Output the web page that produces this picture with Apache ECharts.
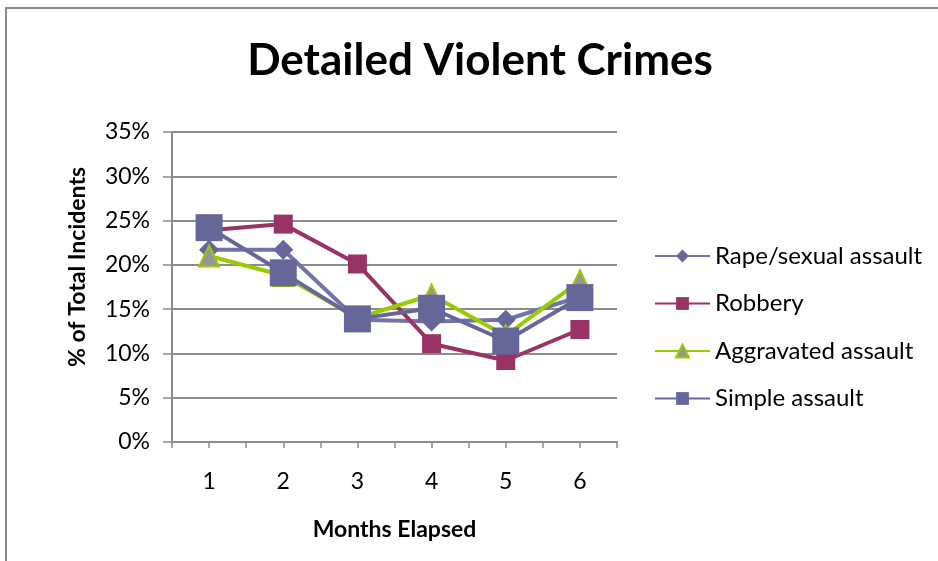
<!DOCTYPE html>
<html>
<head>
<meta charset="utf-8">
<script src="https://cdn.jsdelivr.net/npm/echarts@6/dist/echarts.min.js"></script>
<style>
  html, body { margin: 0; padding: 0; background: #fff; }
  #chart { width: 938px; height: 561px; }
</style>
</head>
<body>
<div id="chart"></div>
<script>
// Share of total incidents per month, by violent crime type (percent)
const months = [1, 2, 3, 4, 5, 6];
const rapeSexualAssault = [21.7, 21.7, 13.8, 13.6, 13.8, 16.4];
const robbery = [23.9, 24.6, 20.1, 11.1, 9.2, 12.7];
const aggravatedAssault = [21.0, 18.8, 14.0, 16.6, 12.0, 18.2];
const simpleAssault = [24.2, 19.1, 13.9, 15.1, 11.4, 16.3];
const yTicks = [0, 5, 10, 15, 20, 25, 30, 35];

const FONT = 'Lato, "Open Sans", sans-serif';
const GRID_GRAY = '#8c8c8c';

function pairs(values) {
  return months.map((m, i) => [m, values[i]]);
}

const chart = echarts.init(document.getElementById('chart'), null, { renderer: 'canvas' });

chart.setOption({
  backgroundColor: '#ffffff',
  animation: false,
  textStyle: { fontFamily: FONT, color: '#000' },
  title: {
    text: 'Detailed Violent Crimes',
    left: 475,
    textAlign: 'center',
    top: 34,
    textStyle: { fontFamily: FONT, fontSize: 44, fontWeight: 'bold', color: '#000' }
  },
  graphic: [{
    type: 'rect',
    shape: { x: 6, y: 8, width: 1000, height: 1000 },
    style: { fill: 'none', stroke: '#8a8a8a', lineWidth: 2 },
    silent: true,
    z: -1
  }],
  grid: { left: 172, right: 321, top: 132, bottom: 119, containLabel: false },
  legend: {
    orient: 'vertical',
    left: 649,
    top: 239,
    itemWidth: 55,
    itemHeight: 16,
    itemGap: 23.5,
    textStyle: { fontFamily: FONT, fontSize: 24, color: '#000', lineHeight: 24 },
    data: ['Rape/sexual assault', 'Robbery', 'Aggravated assault', 'Simple assault']
  },
  xAxis: {
    type: 'value',
    min: 0.5,
    max: 6.5,
    interval: 0.5,
    name: 'Months Elapsed',
    nameLocation: 'middle',
    nameGap: 76,
    nameTextStyle: { fontFamily: FONT, fontSize: 23, fontWeight: 'bold', color: '#000' },
    axisLine: { show: true, lineStyle: { color: GRID_GRAY, width: 2 } },
    axisTick: { show: true, length: 6, lineStyle: { color: GRID_GRAY, width: 1.5 } },
    axisLabel: {
      margin: 28,
      fontSize: 23,
      fontFamily: FONT,
      color: '#000',
      showMinLabel: true,
      showMaxLabel: true,
      formatter: v => (months.indexOf(v) >= 0 ? String(v) : '')
    },
    splitLine: { show: false }
  },
  yAxis: {
    type: 'value',
    min: yTicks[0],
    max: yTicks[yTicks.length - 1],
    interval: 5,
    name: '% of Total Incidents',
    nameLocation: 'middle',
    nameGap: 83,
    nameTextStyle: {
      fontFamily: FONT, fontSize: 23, fontWeight: 'bold', color: '#000',
      padding: [0, 0, 0, 40]
    },
    axisLine: { show: true, lineStyle: { color: GRID_GRAY, width: 2 } },
    axisTick: { show: true, length: 9, lineStyle: { color: GRID_GRAY, width: 1.5 } },
    axisLabel: { margin: 22, fontSize: 23, fontFamily: FONT, color: '#000', formatter: '{value}%' },
    splitLine: { show: true, lineStyle: { color: GRID_GRAY, width: 2 } }
  },
  series: [
    {
      name: 'Rape/sexual assault',
      type: 'line',
      data: pairs(rapeSexualAssault),
      symbol: 'diamond',
      symbolSize: 20,
      lineStyle: { color: '#7373a8', width: 4 },
      itemStyle: { color: '#666699', borderColor: '#666699', borderWidth: 0 }
    },
    {
      name: 'Robbery',
      type: 'line',
      data: pairs(robbery),
      symbol: 'rect',
      symbolSize: 19,
      lineStyle: { color: '#993366', width: 4 },
      itemStyle: { color: '#993366', borderColor: '#993366', borderWidth: 0 }
    },
    {
      name: 'Aggravated assault',
      type: 'line',
      data: pairs(aggravatedAssault),
      symbol: 'triangle',
      symbolSize: [20, 21],
      lineStyle: { color: '#99cc00', width: 4 },
      itemStyle: { color: '#969696', borderColor: '#99cc00', borderWidth: 2 }
    },
    {
      name: 'Simple assault',
      type: 'line',
      data: pairs(simpleAssault),
      symbol: 'rect',
      symbolSize: 27,
      lineStyle: { color: '#666699', width: 4 },
      itemStyle: { color: '#666699', borderColor: '#666699', borderWidth: 0 }
    }
  ]
});
</script>
</body>
</html>
